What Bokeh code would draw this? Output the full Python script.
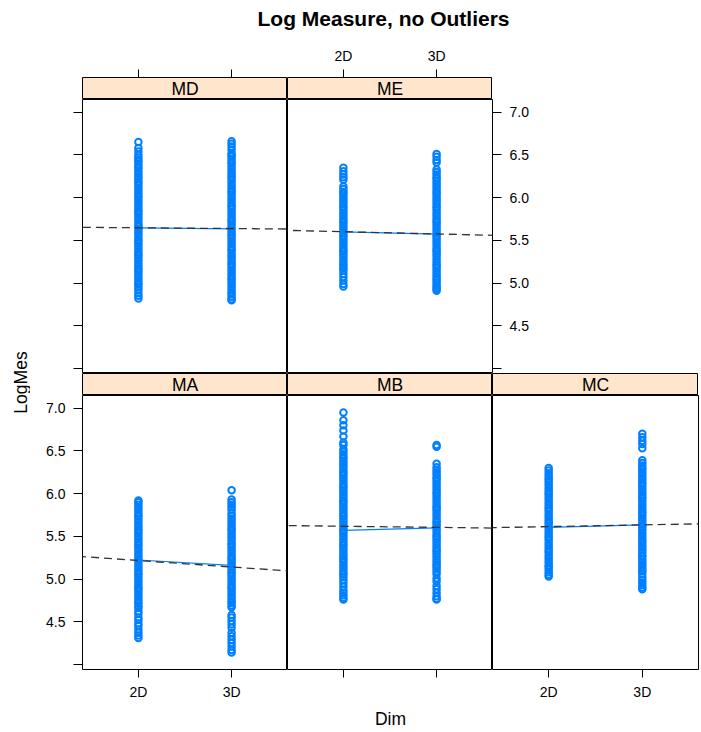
import math
from bokeh.plotting import figure
from bokeh.layouts import row, column
from bokeh.models import (Spacer, Label, Slope, FixedTicker, LinearAxis, Range1d,
                          ColumnDataSource)
from bokeh.embed import file_html
from bokeh.resources import INLINE

FONT = "Liberation Sans"
TITLE = "Log Measure, no Outliers"
XLAB = "Dim"
YLAB = "LogMes"

dims = ["2D", "3D"]
dim_pos = [1, 2]
yticks = [4.0, 4.5, 5.0, 5.5, 6.0, 6.5, 7.0]
ytick_labels = ["", "4.5", "5.0", "5.5", "6.0", "6.5", "7.0"]

# ---- data ----
MD_2D = [6.65, 6.58, 6.54, 6.50, 6.47, 6.44, 6.42, 6.39, 6.36, 6.34, 6.31, 6.28, 6.25, 6.22, 6.19, 6.17,
         6.14, 6.11, 6.08, 6.05, 6.02, 6.00, 5.97, 5.94, 5.91, 5.88, 5.85, 5.83, 5.80, 5.77, 5.74, 5.71,
         5.68, 5.66, 5.63, 5.60, 5.57, 5.54, 5.51, 5.49, 5.46, 5.43, 5.40, 5.37, 5.34, 5.32, 5.29, 5.26,
         5.23, 5.20, 5.17, 5.15, 5.12, 5.09, 5.06, 5.03, 5.00, 4.98, 4.95, 4.92, 4.88, 4.85, 4.82]
MD_3D = [6.66, 6.63, 6.60, 6.56, 6.52, 6.50, 6.48, 6.45, 6.42, 6.40, 6.37, 6.34, 6.31, 6.28, 6.25, 6.23,
         6.20, 6.17, 6.14, 6.11, 6.08, 6.06, 6.03, 6.00, 5.97, 5.94, 5.91, 5.89, 5.86, 5.83, 5.80, 5.77,
         5.74, 5.72, 5.69, 5.66, 5.63, 5.60, 5.57, 5.55, 5.52, 5.49, 5.46, 5.43, 5.40, 5.38, 5.35, 5.32,
         5.29, 5.26, 5.23, 5.21, 5.18, 5.15, 5.12, 5.09, 5.06, 5.04, 5.01, 4.98, 4.95, 4.92, 4.89, 4.87,
         4.84, 4.81, 4.80]
ME_2D = [6.35, 6.31, 6.27, 6.24, 6.21, 6.13, 6.10, 6.07, 6.05, 6.02, 5.99, 5.96, 5.93, 5.90, 5.88, 5.85,
         5.82, 5.79, 5.76, 5.73, 5.71, 5.68, 5.65, 5.62, 5.59, 5.56, 5.54, 5.51, 5.48, 5.45, 5.42, 5.39,
         5.37, 5.34, 5.31, 5.28, 5.25, 5.22, 5.20, 5.17, 5.15, 5.11, 5.07, 5.03, 4.99, 4.96]
ME_3D = [6.51, 6.48, 6.44, 6.41, 6.33, 6.30, 6.27, 6.24, 6.22, 6.19, 6.16, 6.13, 6.10, 6.07, 6.05, 6.02,
         5.99, 5.96, 5.93, 5.90, 5.88, 5.85, 5.82, 5.79, 5.76, 5.73, 5.71, 5.68, 5.65, 5.62, 5.59, 5.56,
         5.54, 5.51, 5.48, 5.45, 5.42, 5.39, 5.37, 5.34, 5.31, 5.28, 5.25, 5.22, 5.20, 5.17, 5.14, 5.11,
         5.08, 5.05, 5.03, 5.00, 4.97, 4.95, 4.93, 4.91]
MA_2D = [5.92, 5.90, 5.87, 5.84, 5.81, 5.78, 5.75, 5.73, 5.70, 5.67, 5.64, 5.61, 5.58, 5.56, 5.53, 5.50,
         5.47, 5.44, 5.41, 5.39, 5.36, 5.33, 5.30, 5.27, 5.24, 5.22, 5.19, 5.16, 5.13, 5.10, 5.07, 5.05,
         5.02, 4.99, 4.96, 4.93, 4.90, 4.88, 4.85, 4.82, 4.79, 4.76, 4.73, 4.71, 4.68, 4.66, 4.62, 4.59,
         4.55, 4.52, 4.48, 4.45, 4.41, 4.37, 4.34, 4.31]
MA_3D = [6.04, 5.93, 5.90, 5.87, 5.84, 5.81, 5.77, 5.74, 5.71, 5.68, 5.65, 5.62, 5.59, 5.57, 5.54, 5.51,
         5.48, 5.45, 5.42, 5.40, 5.37, 5.34, 5.31, 5.28, 5.25, 5.23, 5.20, 5.17, 5.14, 5.11, 5.08, 5.06,
         5.03, 5.00, 4.97, 4.94, 4.91, 4.89, 4.86, 4.83, 4.80, 4.77, 4.74, 4.72, 4.69, 4.67, 4.58, 4.55,
         4.51, 4.47, 4.43, 4.37, 4.33, 4.29, 4.25, 4.21, 4.17, 4.14]
MB_2D = [6.95, 6.86, 6.80, 6.74, 6.67, 6.60, 6.57, 6.52, 6.49, 6.46, 6.43, 6.41, 6.38, 6.35, 6.32, 6.29,
         6.26, 6.24, 6.21, 6.18, 6.15, 6.12, 6.09, 6.07, 6.04, 6.01, 5.98, 5.95, 5.92, 5.90, 5.87, 5.84,
         5.81, 5.78, 5.75, 5.73, 5.70, 5.67, 5.64, 5.61, 5.58, 5.56, 5.53, 5.50, 5.47, 5.44, 5.41, 5.39,
         5.36, 5.33, 5.30, 5.27, 5.24, 5.22, 5.19, 5.16, 5.13, 5.10, 5.07, 5.05, 5.02, 4.99, 4.95, 4.91,
         4.87, 4.84, 4.81, 4.78, 4.76]
MB_3D = [6.57, 6.55, 6.35, 6.31, 6.28, 6.25, 6.22, 6.19, 6.17, 6.14, 6.11, 6.08, 6.05, 6.02, 6.00, 5.97,
         5.94, 5.91, 5.88, 5.85, 5.83, 5.80, 5.77, 5.74, 5.71, 5.68, 5.66, 5.63, 5.60, 5.57, 5.54, 5.51,
         5.49, 5.46, 5.43, 5.40, 5.37, 5.34, 5.32, 5.29, 5.26, 5.23, 5.20, 5.17, 5.15, 5.12, 5.09, 5.06,
         5.01, 4.97, 4.92, 4.88, 4.84, 4.80, 4.77, 4.76]
MC_2D = [6.30, 6.27, 6.24, 6.21, 6.18, 6.16, 6.13, 6.10, 6.07, 6.04, 6.01, 5.99, 5.96, 5.93, 5.90, 5.87,
         5.84, 5.82, 5.79, 5.76, 5.73, 5.70, 5.67, 5.65, 5.62, 5.59, 5.56, 5.53, 5.50, 5.48, 5.45, 5.42,
         5.39, 5.36, 5.33, 5.31, 5.28, 5.25, 5.22, 5.19, 5.16, 5.14, 5.11, 5.08, 5.05, 5.03]
MC_3D = [6.70, 6.66, 6.62, 6.58, 6.53, 6.39, 6.36, 6.33, 6.30, 6.28, 6.25, 6.22, 6.19, 6.16, 6.13, 6.11,
         6.08, 6.05, 6.02, 5.99, 5.96, 5.94, 5.91, 5.88, 5.85, 5.82, 5.79, 5.77, 5.74, 5.71, 5.68, 5.65,
         5.62, 5.60, 5.57, 5.54, 5.51, 5.48, 5.45, 5.43, 5.40, 5.37, 5.34, 5.31, 5.28, 5.26, 5.23, 5.20,
         5.17, 5.14, 5.11, 5.09, 5.06, 5.02, 4.99, 4.96, 4.93, 4.90, 4.88]

# group averages (solid line) and fitted line values (dashed) at 2D / 3D
means = {"MA": [5.223, 5.160], "MB": [5.570, 5.600], "MC": [5.605, 5.635],
         "MD": [5.647, 5.634], "ME": [5.600, 5.572]}
fits = {"MA": [5.217, 5.141], "MB": [5.618, 5.605], "MC": [5.614, 5.634],
        "MD": [5.647, 5.638], "ME": [5.601, 5.575]}
values = {"MA": (MA_2D, MA_3D), "MB": (MB_2D, MB_3D), "MC": (MC_2D, MC_3D),
          "MD": (MD_2D, MD_3D), "ME": (ME_2D, ME_3D)}

PT_COL = "#0080ff"
STRIP_BG = "#ffe5cc"
XR = (0.4, 2.6)
YR = (3.941, 7.149)
PANEL_H = 274
STRIP_H = 22


def style_axis(ax, tick_out, standoff, show_labels):
    ax.axis_line_color = None
    ax.major_tick_line_color = "black"
    ax.major_tick_line_width = 1
    ax.major_tick_out = tick_out
    ax.major_tick_in = 0
    ax.minor_tick_line_color = None
    ax.major_label_text_font = FONT
    ax.major_label_text_font_size = "14px"
    ax.major_label_text_color = "black" if show_labels else None
    ax.major_label_standoff = standoff


def x_axis(show_labels):
    ax = LinearAxis(ticker=FixedTicker(ticks=dim_pos),
                    major_label_overrides={p: (d if show_labels else "") for p, d in zip(dim_pos, dims)})
    style_axis(ax, 8, 6, show_labels)
    return ax


def y_axis(show_labels):
    ax = LinearAxis(ticker=FixedTicker(ticks=yticks),
                    major_label_overrides={t: (l if show_labels else "") for t, l in zip(yticks, ytick_labels)})
    style_axis(ax, 9, 8, show_labels)
    ax.major_label_orientation = "horizontal"
    return ax


def blank_fig(w, h, **kw):
    p = figure(width=w, height=h, toolbar_location=None, output_backend="svg",
               x_axis_location=None, y_axis_location=None, min_border=0, **kw)
    p.grid.visible = False
    p.outline_line_color = None
    p.background_fill_color = "white"
    p.border_fill_color = "white"
    return p


def panel_fig(name, w, h, left=0, right=0, bottom=0):
    p = figure(width=w, height=h, x_range=Range1d(*XR), y_range=Range1d(*YR),
               toolbar_location=None, output_backend="svg",
               x_axis_location=None, y_axis_location=None,
               min_border=0, min_border_left=left, min_border_right=right,
               min_border_bottom=bottom, min_border_top=0)
    p.grid.visible = False
    p.outline_line_color = "black"
    p.outline_line_width = 1
    p.background_fill_color = "white"
    p.border_fill_color = "white"
    v2, v3 = values[name]
    src = ColumnDataSource(dict(x=[dim_pos[0]] * len(v2) + [dim_pos[1]] * len(v3),
                                y=list(v2) + list(v3)))
    p.scatter("x", "y", source=src, marker="circle", size=6.5, fill_color=None,
              line_color=PT_COL, line_width=2.0)
    p.line(dim_pos, means[name], line_color=PT_COL, line_width=1.2)
    f2, f3 = fits[name]
    g = (f3 - f2) / (dim_pos[1] - dim_pos[0])
    b = f2 - g * dim_pos[0]
    p.add_layout(Slope(gradient=g, y_intercept=b, line_color="#333333",
                       line_width=1.3, line_dash="8 5"))
    return p


def strip_fig(name, w, top=0):
    p = figure(width=w, height=STRIP_H + top, x_range=Range1d(*XR), y_range=Range1d(0, 1),
               toolbar_location=None, output_backend="svg",
               x_axis_location=None, y_axis_location=None,
               min_border=0, min_border_top=top)
    p.grid.visible = False
    p.outline_line_color = "black"
    p.outline_line_width = 1
    p.background_fill_color = STRIP_BG
    p.border_fill_color = "white"
    p.add_layout(Label(x=sum(XR) / 2, y=0.5, text=name, text_align="center",
                       text_baseline="middle", text_font=FONT, text_font_size="17.5px",
                       text_color="black"))
    return p


LEFT = 52
RIGHT_W = 671

# title
t_fig = blank_fig(RIGHT_W, 40, x_range=Range1d(0, RIGHT_W), y_range=Range1d(0, 40))
t_fig.add_layout(Label(x=353, y=22, text=TITLE, text_align="center", text_baseline="middle",
                       text_font=FONT, text_font_size="21px", text_font_style="bold",
                       text_color="black"))

# top strips (with top axes)
s_md = strip_fig("MD", 205, top=37)
s_md.add_layout(x_axis(False), "above")
s_me = strip_fig("ME", 205, top=37)
s_me.add_layout(x_axis(True), "above")
row1 = row(Spacer(width=LEFT, height=59), s_md, s_me, Spacer(width=RIGHT_W - LEFT - 410, height=59))

# top panels
p_md = panel_fig("MD", LEFT + 205, PANEL_H, left=LEFT)
p_md.add_layout(y_axis(False), "left")
p_me = panel_fig("ME", RIGHT_W - LEFT - 205, PANEL_H, right=RIGHT_W - LEFT - 410)
p_me.add_layout(y_axis(True), "right")
row2 = row(p_md, p_me)

# bottom strips
s_ma = strip_fig("MA", 205)
s_mb = strip_fig("MB", 205)
s_mc = strip_fig("MC", 206)
row3 = row(Spacer(width=LEFT, height=STRIP_H), s_ma, s_mb, s_mc,
           Spacer(width=RIGHT_W - LEFT - 616, height=STRIP_H))

# bottom panels
BOT = 36
p_ma = panel_fig("MA", LEFT + 205, PANEL_H + BOT, left=LEFT, bottom=BOT)
p_ma.add_layout(y_axis(True), "left")
p_ma.add_layout(x_axis(True), "below")
p_mb = panel_fig("MB", 205, PANEL_H + BOT, bottom=BOT)
p_mb.add_layout(x_axis(False), "below")
p_mc = panel_fig("MC", RIGHT_W - LEFT - 410, PANEL_H + BOT, bottom=BOT, right=RIGHT_W - LEFT - 616)
p_mc.add_layout(x_axis(True), "below")
row4 = row(p_ma, p_mb, p_mc)

# x label
x_fig = blank_fig(RIGHT_W, 27, x_range=Range1d(0, RIGHT_W), y_range=Range1d(0, 27))
x_fig.add_layout(Label(x=360, y=14, text=XLAB, text_align="center", text_baseline="middle",
                       text_font=FONT, text_font_size="17.5px", text_color="black"))

# y label
y_fig = blank_fig(30, 732, x_range=Range1d(0, 30), y_range=Range1d(0, 732))
y_fig.add_layout(Label(x=20, y=350, text=YLAB, text_align="center", text_baseline="middle",
                       angle=math.pi / 2, text_font=FONT, text_font_size="17.5px",
                       text_color="black"))

layout = row(y_fig, column(t_fig, row1, row2, row3, row4, x_fig))

open("out.html", "w").write(file_html(layout, INLINE))
